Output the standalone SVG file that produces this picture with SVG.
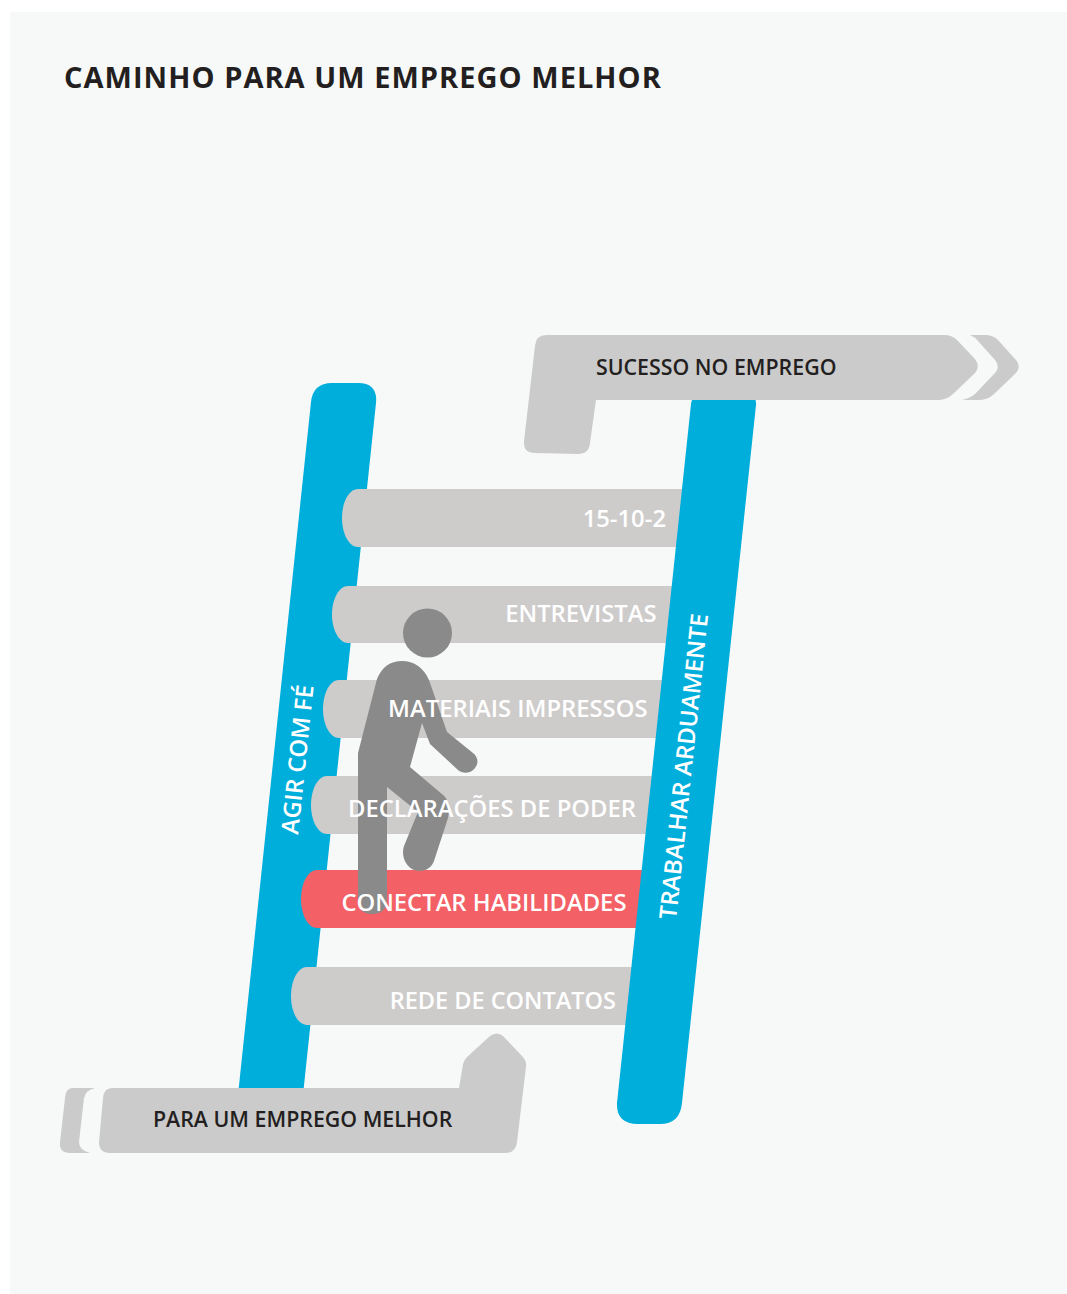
<svg xmlns="http://www.w3.org/2000/svg" width="1067" height="1294" viewBox="0 0 1067 1294">
<style>
text{font-family:"Open Sans","Liberation Sans",sans-serif}
.rail{fill:#00aedb}
.rung{fill:#cecccb}
.hot{fill:#f36066}
.ban{fill:#cbcbcb}
.rl{fill:#fff;font-size:23.800px;font-weight:600;text-anchor:end}
.rt{fill:#fff;font-size:23.900px;font-weight:600}
.bt{fill:#231f20;font-size:21.350px;font-weight:600}
.ttl{fill:#231f20;font-size:29px;font-weight:700;letter-spacing:1.040px}
</style>
<rect x="10" y="12" width="1057" height="1282" fill="#f7f9f9"/>
<text class="ttl" x="64" y="88">CAMINHO PARA UM EMPREGO MELHOR</text>
<g id="rail-left"><path class="rail" d="M311 402Q313 383 332 383H358Q378 383 376 403L303 1095H238Z"/></g>
<g id="step-6"><path class="rung" d="M358 489H690V547H358C349 547 342 534 342 518S349 489 358 489Z"/><text class="rl" x="666" y="527">15-10-2</text></g>
<g id="step-5"><path class="rung" d="M348 586H680V643H348C339 643 332 630 332 614.500S339 586 348 586Z"/></g>
<g id="step-4"><path class="rung" d="M339 680H670V738H339C330 738 323 725 323 709S330 680 339 680Z"/></g>
<g id="step-3"><path class="rung" d="M327 776H660V834H327C318 834 311 821 311 805S318 776 327 776Z"/></g>
<g id="step-2"><path class="hot" d="M317 870H650V928H317C308 928 301 915 301 899S308 870 317 870Z"/></g>
<g id="step-1"><path class="rung" d="M307 967H640V1025H307C298 1025 291 1012 291 996S298 967 307 967Z"/></g>
<g id="rail-right"><path class="rail" d="M691 404Q692 396 700 396H748Q757 396 756 405L682 1103Q680 1124 660 1124H638Q616 1124 617 1103Z"/></g>
<g id="person"><circle cx="427.500" cy="633" r="24.500" fill="#8a8a8a"/>
<path fill="#8a8a8a" d="M358 753V900C358 910 364 914 372 914S387 910 387 900V787L418 812L404 846C401 855 405 866 414 870C423 873 431 869 434 861L448 818C450 808 449 800 443 795L410 767L422 723L430 744L458 770C463 774 470 774 475 768C479 763 478 757 473 753L447 732L429 680C424 668 414 661 402 661S382 667 377 679Z"/></g>
<g id="labels"><text class="rl" x="656.500" y="622">ENTREVISTAS</text><text class="rl" x="647.500" y="717">MATERIAIS IMPRESSOS</text><text class="rl" x="636" y="817">DECLARAÇÕES DE PODER</text><text class="rl" x="626.500" y="911">CONECTAR HABILIDADES</text><text class="rl" x="616" y="1009" style="font-size:23.500px">REDE DE CONTATOS</text></g>
<text class="rt" transform="translate(298 835) rotate(-84)">AGIR COM FÉ</text>
<text class="rt" transform="translate(676 920) rotate(-84)">TRABALHAR ARDUAMENTE</text>
<g id="banner-top"><path class="ban" d="M970 335H985Q993 335 998 340L1016 360Q1022 367 1015 374L994 394Q988 400 978 400H962Q970 398 975 394L994 374Q1001 367 995 360L978 341Q975 337 970 335Z"/>
<path class="ban" d="M546 335H944Q952 335 957 340L975 359Q981 367 974 374L953 394Q947 400 937 400H596L590 443Q589 454 578 454L535 453Q523 453 524 441L535 346Q536 335 546 335Z"/>
<text class="bt" x="596" y="375">SUCESSO NO EMPREGO</text></g>
<g id="banner-bottom"><path class="ban" d="M72 1088H95Q86 1090 84 1098L79 1142Q79 1150 90 1153H70Q59 1153 60 1142L65 1098Q66 1088 72 1088Z"/>
<path class="ban" d="M112 1088H459L463 1064Q464 1060 467 1057L490 1036Q497 1031 503 1036L522 1056Q527 1061 526 1067L517 1142Q516 1153 505 1153H110Q99 1153 99 1142L103 1098Q104 1088 112 1088Z"/>
<text class="bt" x="153" y="1127">PARA UM EMPREGO MELHOR</text></g>
</svg>
